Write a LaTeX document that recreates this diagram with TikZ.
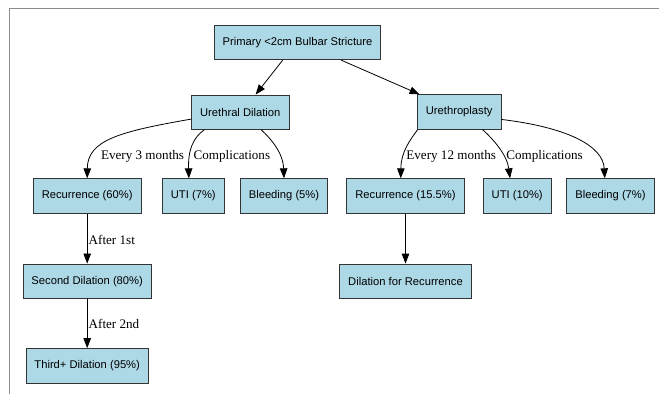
\documentclass[tikz,border=0pt]{standalone}
\usepackage{fontspec}
\setmainfont{Liberation Serif}
\newfontfamily\boxfont{Liberation Sans}
\usepackage{tikz}
\usetikzlibrary{arrows.meta}
\definecolor{boxblue}{HTML}{ADD8E6}
\definecolor{framegray}{HTML}{8C8C8C}

\begin{document}
\begin{tikzpicture}[x=1pt,y=-1pt,
    box/.style={draw=black!80, fill=boxblue, line width=0.8pt, minimum height=34.5pt,
      inner xsep=8.5pt, font=\boxfont\fontsize{11.2}{13}\selectfont},
    edge/.style={-{Triangle[length=10pt,width=7.5pt]}, line width=0.8pt},
    lbl/.style={anchor=base west, inner sep=0pt, font=\fontsize{13.1}{15}\selectfont}]
	  % Frame of the screenshot
	  \useasboundingbox (0,0) rectangle (659,394);
	  \draw[framegray, line width=1.6pt] (9.3,394) -- (9.3,8.3) -- (659,8.3);
	  % Boxes
	  \node[box] (primary) at (297.5,42.5) {Primary <2cm Bulbar Stricture};
	  \node[box] (dilation) at (240.3,112.2) {Urethral Dilation};
	  \node[box] (plasty) at (459.2,112) {Urethroplasty};
	  \node[box] (recA) at (87.2,196) {Recurrence (60\%)};
	  \node[box] (utiA) at (193.3,196) {UTI (7\%)};
	  \node[box] (bleedA) at (284,196) {Bleeding (5\%)};
	  \node[box] (recB) at (405.5,196) {Recurrence (15.5\%)};
	  \node[box] (utiB) at (517.2,196) {UTI (10\%)};
	  \node[box] (bleedB) at (610.5,196) {Bleeding (7\%)};
	  \node[box] (second) at (87.2,281.2) {Second Dilation (80\%)};
	  \node[box] (third) at (87.2,365.8) {Third+ Dilation (95\%)};
	  \node[box] (redil) at (405.5,281.3) {Dilation for Recurrence};
	  % First split
	  \draw[edge] (primary.230) -- (dilation.49);
	  \draw[edge] (primary.338) -- (plasty.156);
	  % Dilation branch
	  \draw[edge] (dilation.188) .. controls (120,131.5) and (87.5,140) .. (recA.north)
	      node[lbl] (every3) at (100.7,159) {Every 3 months};
	  \draw[edge] (dilation.206) .. controls (193,138) and (188,150) .. (utiA.104)
	      node[lbl] (complA) at (193.3,159) {Complications};
	  \draw[edge] (dilation.320) .. controls (270,138) and (283,152) .. (bleedA.north);
	  \draw[edge] (recA) -- (second) node[lbl] (after1) at (88.3,244) {After 1st};
	  \draw[edge] (second) -- (third) node[lbl] (after2) at (88.3,328) {After 2nd};
	  % Urethroplasty branch
	  \draw[edge] (plasty.203) .. controls (410,140) and (401,152) .. (recB.105)
	      node[lbl] (every12) at (406,159) {Every 12 months};
	  \draw[edge] (plasty.323) .. controls (494,140) and (507,155) .. (utiB.112)
	      node[lbl] (complB) at (506,159) {Complications};
	  \draw[edge] (plasty.350) .. controls (565,127) and (603,145) .. (bleedB.108);
	  \draw[edge] (recB) -- (redil);
\end{tikzpicture}
\end{document}
